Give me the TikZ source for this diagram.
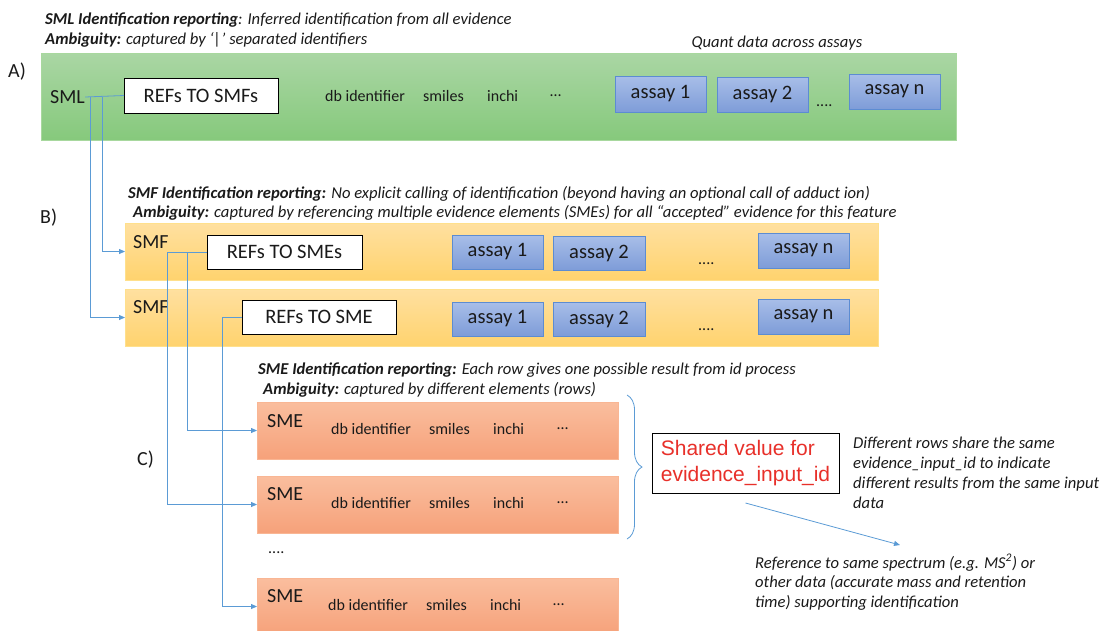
\documentclass[tikz,border=0pt]{standalone}
\usepackage{fontspec}
\setmainfont{Carlito}
\newfontfamily\arialfont{Liberation Sans}
\usetikzlibrary{arrows.meta,decorations.pathreplacing}
\definecolor{txt}{HTML}{1A1A1A}
\definecolor{conncol}{HTML}{5B9BD5}
\definecolor{redtxt}{HTML}{E8302A}
\definecolor{gtop}{RGB}{170,214,164}
\definecolor{gbot}{RGB}{134,201,124}
\definecolor{gdraw}{RGB}{168,216,158}
\definecolor{otop}{RGB}{255,224,160}
\definecolor{obot}{RGB}{255,211,110}
\definecolor{odraw}{RGB}{255,224,140}
\definecolor{stop}{RGB}{250,190,158}
\definecolor{sbot}{RGB}{246,161,122}
\definecolor{sdraw}{RGB}{249,182,148}
\definecolor{btop}{RGB}{168,190,232}
\definecolor{bbot}{RGB}{126,156,216}
\definecolor{bdraw}{RGB}{92,140,210}
\begin{document}
\begin{tikzpicture}[x=1pt,y=-1pt,
  box/.style={anchor=north west,inner sep=0pt,outer sep=0pt,line width=0.8pt},
  greenbox/.style={box,top color=gtop,bottom color=gbot,draw=gdraw},
  smfbox/.style={box,top color=otop,bottom color=obot,draw=odraw},
  smebox/.style={box,top color=stop,bottom color=sbot,draw=sdraw},
  assaybox/.style={box,top color=btop,bottom color=bbot,draw=bdraw,text=txt,font=\fontsize{20.5}{24}\selectfont},
  refbox/.style={box,fill=white,draw=black,line width=1pt,text=txt,font=\fontsize{20.5}{24}\selectfont},
  lbl/.style={anchor=west,inner sep=0pt,text=txt,font=\fontsize{20}{24}\selectfont},
  fld/.style={anchor=west,inner sep=0pt,text=txt,font=\fontsize{16}{19}\selectfont},
  note/.style={anchor=west,inner sep=0pt,text=txt,font=\fontsize{16.6}{20}\selectfont\itshape},
  conn/.style={draw=conncol,line width=0.8pt},
  arr/.style={conn,-{Triangle[length=6pt,width=5pt]}}
]
\path[use as bounding box] (0,0) rectangle (1101,630);
\clip (0,0) rectangle (1101,630);

% ---------- A ----------
\node[note] (tA1) at (45,20) {\textbf{SML Identification reporting}: Inferred identification from all evidence};
\node[note] (tA2) at (45,40) {\textbf{Ambiguity:} captured by ‘|’ separated identifiers};
\node[note,anchor=center] (quant) at (777,43) {Quant data across assays};
\node[lbl] (labA) at (8,72) {A)};
\node[greenbox,minimum width=915pt,minimum height=87pt] (sml) at (41,53) {};
\node[lbl] (smltxt) at (50,97) {SML};
\node[refbox,minimum width=154pt,minimum height=35pt] (refsmf) at (124,78) {REFs TO SMFs};
\node[fld] (adb) at (325,96) {db identifier};
\node[fld] (asm) at (423,96) {smiles};
\node[fld] (ain) at (487,96) {inchi};
\node[fld] (adt) at (550,96) {…};
\node[assaybox,minimum width=91pt,minimum height=36pt] (aa1) at (615,76) {assay 1};
\node[assaybox,minimum width=91pt,minimum height=35pt] (aa2) at (717,77) {assay 2};
\node[fld] (aadots) at (816,106) {....};
\node[assaybox,minimum width=91pt,minimum height=35pt] (aan) at (849,74) {assay n};

% ---------- B ----------
\node[lbl] (labB) at (40,218) {B)};
\node[note] (tB1) at (128,194) {\textbf{SMF Identification reporting:} No explicit calling of identification (beyond having an optional call of adduct ion)};
\node[note] (tB2) at (133,213) {\textbf{Ambiguity:} captured by referencing multiple evidence elements (SMEs) for all “accepted” evidence for this feature};
\node[smfbox,minimum width=753pt,minimum height=57pt] (smf1) at (125,223) {};
\node[smfbox,minimum width=753pt,minimum height=57pt] (smf2) at (125,289) {};
\node[lbl] (smf1txt) at (133,242) {SMF};
\node[lbl] (smf2txt) at (133,307) {SMF};
\node[refbox,minimum width=155pt,minimum height=34pt] (refsme1) at (207,235) {REFs TO SMEs};
\node[refbox,minimum width=154pt,minimum height=34pt] (refsme2) at (242,300) {REFs TO SME};
\node[assaybox,minimum width=91pt,minimum height=34pt] (b11) at (452,235) {assay 1};
\node[assaybox,minimum width=92pt,minimum height=34pt] (b12) at (553,236) {assay 2};
\node[fld] (b1dots) at (698,264) {....};
\node[assaybox,minimum width=91pt,minimum height=35pt] (b1n) at (758,233) {assay n};
\node[assaybox,minimum width=91pt,minimum height=34pt] (b21) at (452,302) {assay 1};
\node[assaybox,minimum width=92pt,minimum height=34pt] (b22) at (553,302) {assay 2};
\node[fld] (b2dots) at (698,330) {....};
\node[assaybox,minimum width=91pt,minimum height=35pt] (b2n) at (758,299) {assay n};

% ---------- C ----------
\node[lbl] (labC) at (137,460) {C)};
\node[note] (tC1) at (258,370) {\textbf{SME Identification reporting:} Each row gives one possible result from id process};
\node[note] (tC2) at (263,390) {\textbf{Ambiguity:} captured by different elements (rows)};
\node[smebox,minimum width=361pt,minimum height=57pt] (sme1) at (257,402) {};
\node[smebox,minimum width=361pt,minimum height=57pt] (sme2) at (257,476) {};
\node[smebox,minimum width=361pt,minimum height=57pt] (sme3) at (257,578) {};
\node[lbl] (sme1txt) at (267,421) {SME};
\node[lbl] (sme2txt) at (267,494) {SME};
\node[lbl] (sme3txt) at (267,596) {SME};
\node[fld] (c1db) at (331,429) {db identifier};
\node[fld] (c1sm) at (429,429) {smiles};
\node[fld] (c1in) at (493,429) {inchi};
\node[fld] (c1dt) at (557,429) {…};
\node[fld] (c2db) at (331,503) {db identifier};
\node[fld] (c2sm) at (429,503) {smiles};
\node[fld] (c2in) at (493,503) {inchi};
\node[fld] (c2dt) at (557,503) {…};
\node[fld] (cdots) at (268,553) {....};
\node[fld] (c3db) at (328,605) {db identifier};
\node[fld] (c3sm) at (426,605) {smiles};
\node[fld] (c3in) at (490,605) {inchi};
\node[fld] (c3dt) at (553,605) {…};

\coordinate (brtop) at (627,395);
\coordinate (brbot) at (627,539);
\draw[conncol,line width=0.8pt,decorate,decoration={brace,amplitude=15pt,aspect=0.5}] (brtop) -- (brbot);

\node[box,draw=black,line width=1pt,fill=white,minimum width=187pt,minimum height=60pt,text=redtxt,align=left,font=\arialfont\fontsize{21}{26}\selectfont] (shared) at (652,433) {Shared value for\\evidence\_input\_id};

\node[note,anchor=north west,align=left,font=\fontsize{16.6}{20}\selectfont\itshape] (noteR) at (853,437) {Different rows share the same\\evidence\_input\_id to indicate\\different results from the same input\\data};
\node[note,anchor=north west,align=left,font=\fontsize{16.6}{19.5}\selectfont\itshape] (noteB) at (755,554) {Reference to same spectrum (e.g. MS\textsuperscript{2}) or\\other data (accurate mass and retention\\time) supporting identification};

% ---------- connectors ----------
\coordinate (j1) at (90,97);
\coordinate (j2) at (102,97);
\coordinate (k1) at (167,252);
\coordinate (k2) at (187,252);
\coordinate (k3) at (222,317);
\coordinate (refend) at (900,545);
\draw[conn] (smltxt.east) -- (refsmf.west);
\draw[arr] (j2) |- (smf1.west);
\draw[arr] (j1) |- (smf2.west);
\draw[conn] (refsme1.west) -- (k1);
\draw[arr] (k2) |- (sme1.west);
\draw[arr] (k1) |- (sme2.west);
\draw[conn] (refsme2.west) -- (k3);
\draw[arr] (k3) |- (sme3.west);
\draw[arr] ([yshift=-10pt]shared.south) -- (refend);
\end{tikzpicture}
\end{document}
